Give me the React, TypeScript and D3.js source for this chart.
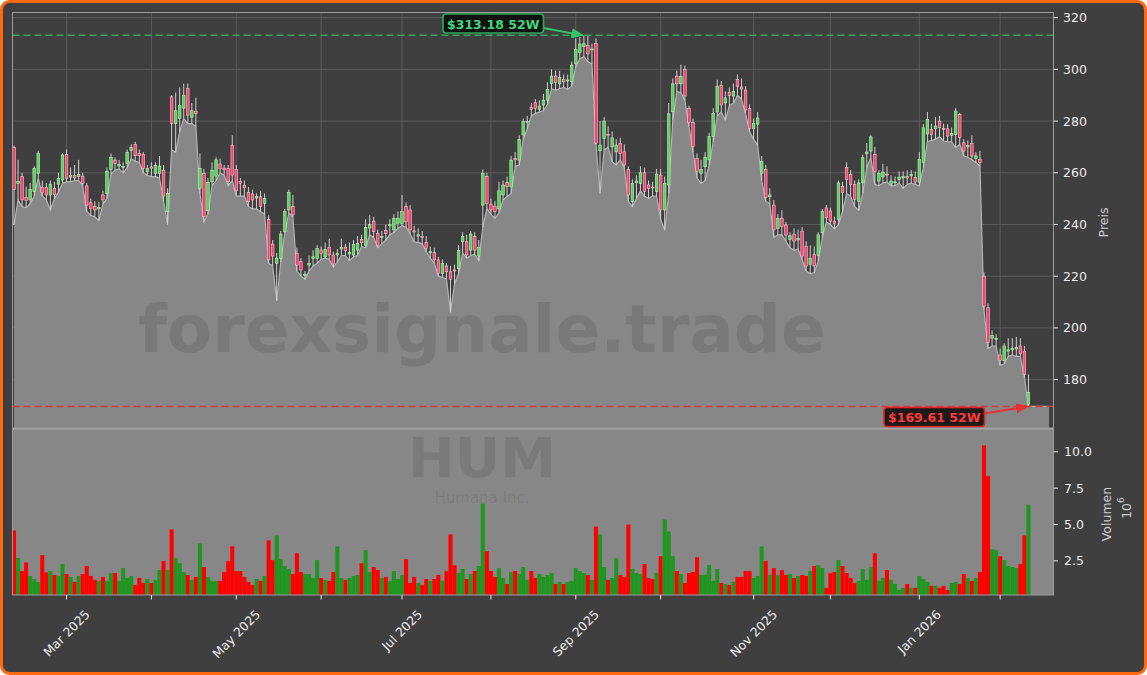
import React from "react";
import * as d3 from "d3";

const W = 1147;
const H = 675;

const FIRST_DAY = "2025-02-11";
const LAST_DAY = "2026-02-11";
const HOLIDAYS = [
  "2025-02-17", "2025-04-18", "2025-05-26", "2025-06-19", "2025-07-04",
  "2025-09-01", "2025-11-27", "2025-12-25", "2026-01-01", "2026-01-19",
];

const OPEN = [
  269.8, 255.8, 258.5, 250.5, 249.5, 252.7, 259.8, 254.4, 254.4, 251.4,
  254, 255.6, 257.2, 267.1, 258.3, 259, 258.5, 258.7, 254.9, 248.4,
  246.9, 246, 251.4, 252, 261.3, 264.9, 262.6, 262, 263.6, 268.6,
  271, 267.5, 267.1, 260.4, 262.3, 259.8, 259.8, 261, 244.9, 289.4,
  279, 281, 285, 292.6, 281.5, 283.8, 254, 259.8, 245.3, 256.5,
  258.7, 263.4, 261.8, 261.7, 270.7, 261.3, 256.6, 255.2, 252.3, 251.8,
  250.2, 250.7, 248.2, 242, 232.4, 225, 226.9, 237.2, 245.6, 246.9,
  228.8, 225.6, 220.2, 224.3, 226.9, 226.9, 230.1, 227.5, 231.2, 228.2,
  228.2, 230.5, 231.2, 228.6, 228.2, 230.1, 234.2, 232, 238.6, 241.3,
  236.6, 235, 237.7, 239.5, 237.9, 240.5, 240.4, 246.9, 245.6, 237.5,
  235.5, 235.4, 233.1, 229, 229.2, 226.3, 221.1, 223.9, 221.7, 222.4,
  223, 233.3, 233.3, 230.1, 235.3, 227.8, 247.5, 258.5, 247.9, 247.1,
  246, 251.4, 256.3, 254.6, 265.5, 264.9, 274.6, 279.5, 285.3, 287.1,
  284.5, 286.2, 288.1, 294.6, 297.4, 294.4, 296.1, 295.5, 295.2, 302.3,
  306.5, 308.8, 309.3, 307.6, 310, 268.5, 273.3, 274.9, 270, 268.1,
  271.3, 268.1, 261.3, 248.8, 256.2, 255.9, 260, 255.3, 254.5, 252.7,
  259.1, 245.6, 255.3, 283.6, 297.4, 294.4, 300, 284.9, 279.4, 265.6,
  259.8, 262.3, 265, 274, 283.5, 293.8, 287, 291, 289.7, 296.1,
  293.2, 292, 284.9, 277.2, 278.8, 259.8, 261.3, 250.7, 247.5, 238.5,
  242.4, 239.8, 234.2, 236.2, 234, 237.4, 231.6, 224.5, 228.5, 228,
  236.8, 246.4, 245.2, 241.3, 242, 254.8, 262, 259.4, 255.5, 249,
  256.1, 267.3, 268.4, 267.1, 256.8, 258.4, 259.5, 255.5, 256.3, 257.4,
  258, 258.5, 258.8, 258.1, 256.4, 264, 275, 276.8, 277, 280,
  277.2, 277, 274.5, 274.8, 282.6, 271.6, 270, 271.4, 265.5, 265.2,
  220, 207.8, 196, 195.5, 189.5, 187.3, 191, 191.5, 191.8, 193,
  191, 170.5,
];

const HIGH = [
  270.5, 265, 260, 254.6, 256, 262.5, 268.5, 257, 256, 257,
  256.5, 260, 267.5, 269, 262, 263, 265, 260, 256, 250,
  249, 248.8, 253, 262, 267.5, 266, 265, 264, 269, 271,
  272, 269, 268, 263, 264, 264, 266.5, 263, 254, 290,
  291, 293, 294.5, 294.5, 287, 289, 267.5, 261.5, 258, 264,
  266, 265.5, 263, 263, 274.5, 263, 258, 257, 254.5, 253.5,
  252, 253, 252, 243.5, 234, 229, 237.5, 246, 253.5, 251.4,
  231, 227, 222, 228, 230, 232, 231.5, 233, 234.5, 229.5,
  230.5, 234.5, 232.5, 233, 234, 235.5, 236, 242, 243.5, 243,
  238, 237.5, 240, 242, 244, 245, 251.4, 248.5, 247.5, 239.5,
  238.5, 237.5, 235.5, 231.5, 231, 227.5, 226.5, 225, 224, 224.5,
  232, 237, 236, 237.5, 237, 234, 261.3, 260, 250, 249,
  256.5, 257, 258.5, 266.5, 268, 274.5, 281, 282, 287, 288.5,
  288, 290.5, 295, 300, 299.5, 299.5, 298, 298, 303, 312,
  312.5, 313.18, 313, 310, 312, 280, 281.5, 278, 276, 273,
  273.5, 271, 262.5, 257.5, 259, 262.5, 262, 257, 256.5, 261.5,
  261.5, 258.5, 287, 296.5, 299.5, 301.8, 301.5, 286, 281, 267.5,
  265, 268, 275.5, 285, 296, 295.5, 291.5, 293, 294.5, 298,
  296.5, 293.5, 286.5, 281, 283.5, 266.5, 263, 254, 249.5, 244,
  245.5, 241, 237, 238.5, 238, 239, 233.5, 232, 231.5, 237,
  246, 247.5, 246.5, 243, 257, 256.5, 264, 261, 257, 257.5,
  267, 271.5, 274.5, 270, 261, 263.5, 262.5, 259, 258.5, 260.5,
  260.5, 261, 261, 260.5, 268, 278.8, 283.5, 279, 281.5, 282,
  279, 278.8, 277.5, 285, 283.2, 273, 272.5, 274.5, 268, 268.5,
  221.5, 209.5, 199, 197.5, 192, 194, 196, 196, 196.5, 196,
  193, 182,
];

const LOW = [
  239.8, 249.5, 246.9, 246.5, 248, 251, 258, 251, 249.5, 245.6,
  250, 252.5, 256, 256.5, 256.5, 257, 257, 255, 245, 243.5,
  243, 241.5, 248, 250, 259.5, 261, 261.5, 260, 262, 265.5,
  264.5, 264, 260, 259, 258.5, 258.5, 258, 249, 240, 268.8,
  268, 276, 281, 279, 279, 278, 252, 241, 244, 255,
  257, 260, 259, 255, 257, 251, 251, 251, 247, 246,
  246, 245, 244, 225, 224, 210.5, 225.5, 236.8, 244.5, 243,
  222, 220, 218.8, 222, 224, 225, 226.5, 227, 226.5, 223.5,
  225.5, 228, 228, 226, 227.5, 228, 231.5, 231, 236, 235,
  231, 232.5, 234, 236, 237, 238.5, 239.5, 239, 236.5, 233.3,
  233, 232.5, 229.5, 227, 225, 220, 219.5, 219, 206, 217,
  221, 229, 227, 228, 228.5, 226, 239, 246.2, 244, 242.4,
  244.5, 249.5, 250.8, 252, 262.5, 263, 273, 277, 282, 283,
  283.5, 284, 286.5, 292.5, 292, 292.5, 293, 292.3, 293.5, 301,
  304, 305, 303, 302, 271, 252, 268.8, 270, 264.3, 263,
  265, 262, 249, 246.9, 250, 253, 251, 250, 251, 251,
  242, 237.8, 252, 280.5, 291.4, 291, 288, 278, 268, 258,
  255.9, 257, 263, 272, 282, 283.5, 280.4, 286, 287, 290,
  288.5, 283, 276, 273, 270.7, 257, 249, 248, 235, 236,
  236, 233.5, 231, 230, 230.5, 226.5, 222, 221, 221.3, 226,
  235, 241, 240, 238.3, 240, 245, 252, 251, 247, 245.5,
  252, 262, 266, 255.5, 255, 256, 256.5, 254.9, 255, 256,
  254, 255.5, 256, 255.5, 255, 262, 272, 272.5, 273, 274,
  272.3, 272, 272, 269.7, 271, 266.5, 266, 265, 264, 262.5,
  207, 192, 193, 193, 185.5, 186, 189, 189.5, 189, 189,
  181, 169.61,
];

const CLOSE = [
  253.6, 256.6, 249.5, 249.3, 253.6, 261.7, 267.5, 252.4, 251.4, 255.6,
  251.6, 257.8, 266.9, 257.8, 259, 258, 259.3, 255.9, 247.5, 246.2,
  245.6, 246.6, 249.5, 260.6, 266, 263.6, 263.2, 262.4, 267.9, 269.8,
  266.6, 266.6, 261.7, 261.7, 261.8, 262.9, 262.6, 251, 252, 279.1,
  284, 286, 290, 282.3, 284, 283, 261.7, 243, 256.2, 261,
  265, 261.5, 261.1, 256.5, 259.1, 253, 255.9, 254.2, 248.8, 249.5,
  250.8, 246.9, 250.1, 226.3, 227.8, 227, 236.3, 245, 252.3, 243.7,
  224.3, 222.4, 220.8, 225, 227.5, 230.8, 228.8, 230.4, 228.2, 224.7,
  228.7, 231.2, 229.9, 229.2, 232.3, 232.7, 232.9, 238.9, 240, 237.2,
  232, 235.4, 236.5, 239.9, 242.4, 242.4, 245, 241, 237.9, 237.1,
  236, 235, 230.8, 229.5, 226.3, 221.1, 225, 221.7, 218.8, 222.1,
  229.9, 235.3, 228.2, 236.3, 230.1, 231.2, 259.8, 248.2, 245.6, 245,
  253, 255.3, 254.6, 264.9, 265, 272.9, 279.8, 279.8, 284.5, 284.9,
  285.8, 288.1, 292.2, 297.4, 294.9, 296.9, 295.2, 295.9, 301.7, 307.7,
  309.8, 309.9, 306, 307.9, 271.5, 270.7, 280, 274.6, 273.5, 270.7,
  267.5, 263, 251.4, 255.9, 256.8, 260, 252.7, 254, 254.3, 259.5,
  245.6, 255.9, 282.8, 294.4, 294.4, 297.2, 289.7, 279.4, 270.1, 260.6,
  261.3, 266, 274, 283, 293.5, 286.2, 289, 289.8, 291.4, 293.5,
  292.4, 284.3, 277.2, 279.1, 281.2, 264.3, 250.4, 251.4, 237.9, 242.4,
  239.2, 235.9, 235.6, 233.6, 234.6, 227.8, 223.9, 227, 224, 236,
  245, 242.6, 241.3, 240.5, 256.1, 252.3, 257.4, 255.5, 249.7, 256.1,
  265.8, 268, 273.9, 260.6, 259.8, 260.3, 259.2, 256.8, 256.5, 258.3,
  258.5, 258, 259.3, 256.4, 265.2, 277.4, 280.6, 274.8, 278.1, 277.4,
  277, 274.2, 275.2, 283.9, 273.6, 268.4, 270.5, 266.5, 266.5, 263.9,
  208.4, 194.3, 197, 196, 187.4, 193, 191.5, 192, 192.5, 190,
  182, 175,
];

// Volume in millions of shares
const VOLUME = [
  4.59, 2.7, 1.8, 2.39, 1.46, 1.25, 1.05, 2.89, 1.71, 1.8,
  1.53, 1.46, 2.28, 1.59, 1.39, 1.05, 1.46, 1.59, 2.14, 1.46,
  1.19, 1.12, 1.39, 1.12, 1.66, 1.66, 1.12, 2.0, 1.32, 1.46,
  0.84, 1.32, 0.98, 1.25, 0.98, 1.19, 1.87, 2.48, 1.87, 4.66,
  2.68, 2.34, 1.73, 1.53, 1.19, 1.39, 3.7, 2.07, 1.39, 1.12,
  1.12, 1.12, 1.73, 2.48, 3.5, 1.8, 1.8, 1.39, 1.05, 0.84,
  1.25, 1.12, 1.46, 3.91, 2.55, 4.25, 2.61, 2.14, 1.94, 1.59,
  3.02, 1.73, 1.59, 1.59, 1.32, 2.55, 1.32, 1.19, 1.12, 1.73,
  3.5, 1.32, 1.19, 1.32, 1.46, 1.53, 2.34, 3.23, 1.73, 2.07,
  1.87, 1.32, 1.39, 1.12, 1.8, 1.25, 1.53, 2.61, 0.98, 1.39,
  0.98, 0.84, 1.25, 1.12, 1.25, 1.53, 1.12, 1.8, 4.32, 2.21,
  1.66, 1.94, 1.25, 1.59, 1.8, 2.14, 6.43, 3.16, 1.8, 1.39,
  2.0, 1.32, 0.91, 1.73, 1.8, 1.59, 2.07, 1.19, 1.8, 1.32,
  1.59, 1.39, 1.53, 1.66, 0.91, 1.05, 0.91, 1.05, 1.12, 2.0,
  1.8, 1.66, 1.53, 1.19, 4.86, 4.32, 2.07, 1.19, 1.32, 2.68,
  1.53, 1.39, 5.0, 1.94, 1.66, 1.59, 2.28, 1.32, 1.25, 1.66,
  2.82, 5.34, 4.52, 2.82, 1.8, 1.59, 0.98, 1.66, 1.73, 2.75,
  1.53, 1.55, 2.21, 1.12, 1.94, 0.98, 0.91, 0.84, 1.05, 1.39,
  1.39, 1.8, 1.8, 1.32, 1.46, 3.5, 2.48, 1.53, 2.0, 1.53,
  1.87, 1.53, 1.59, 1.32, 1.46, 1.53, 1.46, 1.8, 2.14, 2.21,
  2.0, 0.64, 1.66, 1.73, 2.55, 2.14, 1.66, 1.32, 0.98, 1.12,
  1.94, 1.19, 2.07, 3.02, 1.12, 1.32, 1.87, 1.19, 0.91, 0.5,
  0.64, 0.91, 0.64, 0.64, 1.46, 1.25, 1.05, 0.78, 0.78, 0.64,
  0.78, 0.5, 0.98, 1.05, 0.91, 1.59, 1.32, 1.12, 1.32, 1.73,
  10.45, 8.34, 3.3, 3.23, 2.82, 2.55, 2.14, 2.07, 2.0, 2.28,
  4.25, 6.36,
];

const PRICE_TICKS = [180, 200, 220, 240, 260, 280, 300, 320];
const VOLUME_TICKS = [2.5, 5, 7.5, 10];
const HIGH_52W = 313.18;
const LOW_52W = 169.61;
const HIGH_LABEL = "$313.18 52W";
const LOW_LABEL = "$169.61 52W";
const WATERMARK = "forexsignale.trade";
const TICKER = "HUM";
const COMPANY = "Humana Inc.";

function tradingDays(): Date[] {
  const hs = new Set(HOLIDAYS);
  const out: Date[] = [];
  let d = new Date(FIRST_DAY + "T12:00:00Z");
  const end = new Date(LAST_DAY + "T12:00:00Z");
  while (d <= end) {
    const wd = d.getUTCDay();
    const s = d.toISOString().slice(0, 10);
    if (wd !== 0 && wd !== 6 && !hs.has(s)) out.push(new Date(d.getTime()));
    d = new Date(d.getTime() + 86400000);
  }
  return out;
}

let ctx: CanvasRenderingContext2D | null = null;
function textWidth(t: string, font: string) {
  if (!ctx) ctx = document.createElement("canvas").getContext("2d");
  if (!ctx) return t.length * 7;
  ctx.font = font;
  return ctx.measureText(t).width;
}

const FONT = "DejaVu Sans, Verdana, sans-serif";

export default function App() {
  const days = tradingDays();
  const n = OPEN.length;

  const L = 12.5, R = 1053.5, PT = 12.5, PB = 428, VT = 429, VB = 595;

  const x = d3.scaleLinear().domain([-0.37, 257.2]).range([L, R]);
  const yP = d3.scaleLinear().domain([161.27, 322.0]).range([PB, PT]);
  const yV = d3.scaleLinear().domain([0.15, 11.57]).range([VB, VT]);

  const step = x(1) - x(0);

  const areaPts: [number, number][] = LOW.map((v, i) => [i, v]);
  areaPts.push([256.1, LOW[n - 1]]);
  const area = d3
    .area<[number, number]>()
    .x((d) => x(d[0]))
    .y0(PB)
    .y1((d) => yP(d[1]));
  const line = d3
    .line<[number, number]>()
    .x((d) => x(d[0]))
    .y((d) => yP(d[1]));

  const monthTicks: { i: number; d: Date; major: boolean }[] = [];
  for (let i = 1; i < days.length; i++) {
    if (days[i].getUTCMonth() !== days[i - 1].getUTCMonth()) {
      monthTicks.push({ i, d: days[i], major: days[i].getUTCMonth() % 2 === 0 });
    }
  }
  const fmt = d3.utcFormat("%b %Y");

  const green = "#5ccf5c";
  const greenEdge = "#b9f0b9";
  const red = "#f24470";
  const redEdge = "#ffc0cf";
  const wick = "#cfcfcf";

  const hiY = yP(HIGH_52W);
  const loY = yP(LOW_52W);
  const hiIdx = HIGH.indexOf(HIGH_52W);
  const loIdx = LOW.indexOf(LOW_52W);

  const labelFont = `bold 12.5px DejaVu Sans`;
  const hiW = textWidth(HIGH_LABEL, labelFont) + 8;
  const loW = textWidth(LOW_LABEL, labelFont) + 8;
  const hiBox = { x: 443, y: 14, w: hiW, h: 19 };
  const loBox = { x: 884, y: 407.5, w: loW, h: 19 };

  const tickFont = `12.5px DejaVu Sans`;

  return (
    <svg
      width={W}
      height={H}
      viewBox={`0 0 ${W} ${H}`}
      style={{ position: "absolute", left: 0, top: 0, display: "block" }}
      fontFamily={FONT}
    >
      <defs>
        <marker id="arrG" viewBox="0 0 10 10" refX="9" refY="5" markerWidth="7" markerHeight="7" orient="auto">
          <path d="M0,1 L10,5 L0,9 z" fill="#36c46a" />
        </marker>
        <marker id="arrR" viewBox="0 0 10 10" refX="9" refY="5" markerWidth="7" markerHeight="7" orient="auto">
          <path d="M0,1 L10,5 L0,9 z" fill="#e8302f" />
        </marker>
        <clipPath id="priceClip">
          <rect x={L} y={PT} width={R - L} height={PB - PT} />
        </clipPath>
        <clipPath id="volClip">
          <rect x={L} y={VT} width={R - L} height={VB - VT} />
        </clipPath>
      </defs>

      <rect x={0} y={0} width={W} height={H} fill="#ffffff" />
      <rect x={1.5} y={1.5} width={W - 3} height={H - 3} rx={8} ry={8} fill="#3f3f3f" stroke="#ff6a10" strokeWidth={3} />

      {/* price grid */}
      <g stroke="#5b5b5b" strokeWidth={1}>
        {PRICE_TICKS.map((t) => (
          <line key={"hg" + t} x1={L} x2={R} y1={yP(t)} y2={yP(t)} />
        ))}
        {monthTicks.map((m) => (
          <line key={"vg" + m.i} x1={x(m.i)} x2={x(m.i)} y1={PT} y2={PB} />
        ))}
      </g>

      {/* price area (lows) */}
      <g clipPath="url(#priceClip)">
        <path d={area(areaPts) || ""} fill="#878787" />
        <path d={line(areaPts) || ""} fill="none" stroke="#b4b4b4" strokeWidth={1.2} />
      </g>

      {/* watermark */}
      <text
        x={482}
        y={352}
        textAnchor="middle"
        fontSize={66}
        fontWeight="bold"
        fill="#000"
        fillOpacity={0.1}
      >
        {WATERMARK}
      </text>

      {/* candles */}
      <g clipPath="url(#priceClip)">
        {OPEN.map((o, i) => {
          const c = CLOSE[i];
          const up = c >= o;
          const cx = x(i);
          const top = yP(Math.max(o, c));
          const bot = yP(Math.min(o, c));
          const h = Math.max(1, bot - top);
          return (
            <g key={"c" + i}>
              <line x1={cx} x2={cx} y1={yP(HIGH[i])} y2={yP(LOW[i])} stroke={wick} strokeWidth={1} />
              <rect
                x={cx - 1.3}
                y={top}
                width={2.6}
                height={h}
                fill={up ? green : red}
                stroke={up ? greenEdge : redEdge}
                strokeWidth={0.6}
              />
            </g>
          );
        })}
      </g>

      {/* 52W lines */}
      <line x1={L} x2={R} y1={hiY} y2={hiY} stroke="#2fa85e" strokeWidth={1.6} strokeDasharray="7,4" />
      <line x1={L} x2={R} y1={loY} y2={loY} stroke="#d83a3a" strokeWidth={1.6} strokeDasharray="7,4" />

      {/* volume panel */}
      <rect x={L} y={VT} width={R - L} height={VB - VT} fill="#878787" />
      <text x={482} y={477} textAnchor="middle" fontSize={56} fontWeight="bold" fill="#000" fillOpacity={0.09}>
        {TICKER}
      </text>
      <text x={482} y={503} textAnchor="middle" fontSize={15} fill="#000" fillOpacity={0.09}>
        {COMPANY}
      </text>
      <g clipPath="url(#volClip)">
        {VOLUME.map((v, i) => {
          const up = CLOSE[i] >= OPEN[i];
          return (
            <rect
              key={"v" + i}
              x={x(i) - step / 2}
              y={yV(v)}
              width={step}
              height={VB - yV(v)}
              fill={up ? "#1f961f" : "#ff0000"}
            />
          );
        })}
      </g>

      {/* spines */}
      <rect x={L} y={PT} width={R - L} height={PB - PT} fill="none" stroke="#9c9c9c" strokeWidth={1} />
      <line x1={L} x2={R} y1={PB + 0.8} y2={PB + 0.8} stroke="#a8a8a8" strokeWidth={1.6} />
      <rect x={L} y={VT} width={R - L} height={VB - VT} fill="none" stroke="#9c9c9c" strokeWidth={1} />

      {/* price axis ticks */}
      <g>
        {PRICE_TICKS.map((t) => (
          <g key={"pt" + t}>
            <line x1={R} x2={R + 4.5} y1={yP(t)} y2={yP(t)} stroke="#e6e6e6" strokeWidth={1} />
            <text x={R + 9.5} y={yP(t)} dominantBaseline="central" fontSize={12.5} fill="#ececec">
              {t}
            </text>
          </g>
        ))}
        <text
          x={1103}
          y={222.5}
          textAnchor="middle"
          dominantBaseline="central"
          fontSize={12.5}
          fill="#cfcfcf"
          transform="rotate(-90 1103 222.5)"
        >
          Preis
        </text>
      </g>

      {/* volume axis ticks */}
      <g>
        {VOLUME_TICKS.map((t) => (
          <g key={"vt" + t}>
            <line x1={R} x2={R + 4.5} y1={yV(t)} y2={yV(t)} stroke="#e6e6e6" strokeWidth={1} />
            <text x={R + 10.5} y={yV(t)} dominantBaseline="central" fontSize={12.5} fill="#ececec">
              {t.toFixed(1)}
            </text>
          </g>
        ))}
        <text
          x={1106}
          y={514}
          textAnchor="middle"
          dominantBaseline="central"
          fontSize={12.5}
          fill="#cfcfcf"
          transform="rotate(-90 1106 514)"
        >
          Volumen
        </text>
        <text
          x={1126}
          y={508}
          textAnchor="middle"
          dominantBaseline="central"
          fontSize={12.5}
          fill="#cfcfcf"
          transform="rotate(-90 1126 508)"
        >
          10
          <tspan dy={-5} fontSize={9}>
            6
          </tspan>
        </text>
      </g>

      {/* x axis ticks */}
      <g>
        {monthTicks.map((m) => {
          const tx = x(m.i);
          return <line key={"xt" + m.i} x1={tx} x2={tx} y1={VB} y2={VB + 4.5} stroke="#e6e6e6" strokeWidth={1} />;
        })}
        {monthTicks
          .filter((m) => m.major)
          .map((m) => {
            const label = fmt(m.d);
            const tw = textWidth(label, tickFont);
            const ext = (tw + 14.5) * Math.SQRT1_2;
            const cx = x(m.i);
            const cy = 607 + ext / 2;
            return (
              <text
                key={"xl" + m.i}
                x={cx}
                y={cy}
                textAnchor="middle"
                dominantBaseline="central"
                fontSize={12.5}
                fill="#ececec"
                transform={`rotate(-45 ${cx} ${cy})`}
              >
                {label}
              </text>
            );
          })}
      </g>

      {/* 52W labels */}
      <line
        x1={hiBox.x + hiBox.w}
        y1={hiBox.y + 14}
        x2={x(hiIdx) - 1}
        y2={hiY}
        stroke="#36c46a"
        strokeWidth={1.8}
        markerEnd="url(#arrG)"
      />
      <rect x={hiBox.x} y={hiBox.y} width={hiBox.w} height={hiBox.h} rx={3} fill="#0c0c0c" fillOpacity={0.9} stroke="#2fa85e" strokeWidth={1.6} />
      <text x={hiBox.x + hiBox.w / 2} y={hiBox.y + hiBox.h / 2 + 0.5} textAnchor="middle" dominantBaseline="central" fontSize={12.5} fontWeight="bold" fill="#3fd67c">
        {HIGH_LABEL}
      </text>

      <line
        x1={loBox.x + loBox.w}
        y1={loBox.y + 6}
        x2={x(loIdx) - 1}
        y2={loY}
        stroke="#e8302f"
        strokeWidth={1.8}
        markerEnd="url(#arrR)"
      />
      <rect x={loBox.x} y={loBox.y} width={loBox.w} height={loBox.h} rx={3} fill="#161010" fillOpacity={0.92} stroke="#e02424" strokeWidth={1.6} />
      <text x={loBox.x + loBox.w / 2} y={loBox.y + loBox.h / 2 + 0.5} textAnchor="middle" dominantBaseline="central" fontSize={12.5} fontWeight="bold" fill="#ff3a3a">
        {LOW_LABEL}
      </text>
    </svg>
  );
}
